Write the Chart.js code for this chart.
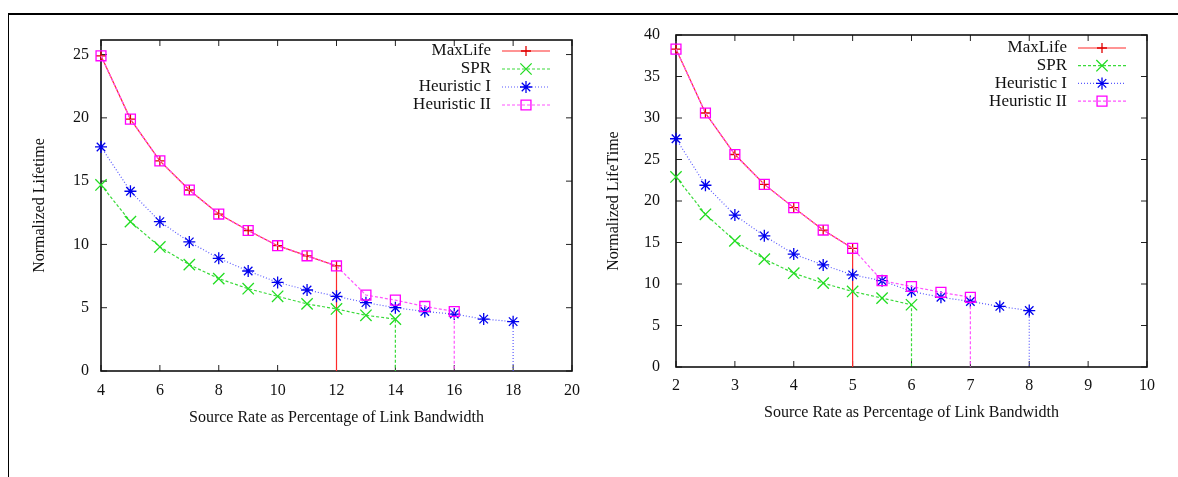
<!DOCTYPE html>
<html lang="en">
<head>
<meta charset="UTF-8">
<title>Normalized Lifetime vs Source Rate</title>
<script src="https://cdn.jsdelivr.net/npm/chart.js"></script>
<style>
    body { margin: 0; background: #fff; }
    .frame { position: absolute; left: 8px; top: 13px; right: 0; bottom: 0; border-top: 2px solid #000; border-left: 1.5px solid #000; }
    .box { position: absolute; top: 0; height: 477px; }
</style>
</head>
<body>
<div class="frame"></div>
<div class="box" style="left:0;width:590px"><canvas id="chartLeft"></canvas></div>
<div class="box" style="left:590px;width:588px"><canvas id="chartRight"></canvas></div>
<script>
    // series names (same in both panels)
    const names = ["MaxLife", "SPR", "Heuristic I", "Heuristic II"];

    // left panel: source rate 4..18 %
    const rateLeft = [4, 5, 6, 7, 8, 9, 10, 11, 12, 13, 14, 15, 16, 17, 18];
    const maxLifeLeft = [24.9, 19.9, 16.6, 14.3, 12.4, 11.1, 9.9, 9.1, 8.3];
    const sprLeft = [14.7, 11.8, 9.8, 8.4, 7.3, 6.5, 5.9, 5.3, 4.9, 4.4, 4.1];
    const heur1Left = [17.7, 14.2, 11.8, 10.2, 8.9, 7.9, 7.0, 6.4, 5.9, 5.4, 5.0, 4.7, 4.5, 4.1, 3.9];
    const heur2Left = [24.9, 19.9, 16.6, 14.3, 12.4, 11.1, 9.9, 9.1, 8.3, 6.0, 5.6, 5.1, 4.7];

    // right panel: source rate 2..8 %
    const rateRight = [2, 2.5, 3, 3.5, 4, 4.5, 5, 5.5, 6, 6.5, 7, 7.5, 8];
    const maxLifeRight = [38.3, 30.6, 25.6, 22.0, 19.2, 16.5, 14.3];
    const sprRight = [22.9, 18.4, 15.2, 13.0, 11.3, 10.1, 9.1, 8.3, 7.5];
    const heur1Right = [27.5, 21.9, 18.3, 15.8, 13.6, 12.3, 11.1, 10.4, 9.1, 8.4, 7.9, 7.3, 6.8];
    const heur2Right = [38.3, 30.6, 25.6, 22.0, 19.2, 16.5, 14.3, 10.4, 9.7, 9.0, 8.4];

    const serif = "'Liberation Serif', 'Times New Roman', serif";

    // gnuplot-like styles for each series
    const looks = [
        { line: "#ff2a2a", mark: "#e00000", dash: [], style: "cross", r: 5, order: 3 },
        { line: "#3ada3a", mark: "#22dd22", dash: [3, 2], style: "crossRot", r: 8, order: 2 },
        { line: "#5a5aff", mark: "#0000ee", dash: [1, 2], style: "star", r: 6, order: 1 },
        { line: "#ff55ff", mark: "#ff00ff", dash: [3, 2], style: "rect", r: 7, order: 0 }
    ];

    // points, then the drop down to zero at the last rate
    function series(xs, ys) {
        const pts = ys.map((v, i) => ({ x: xs[i], y: v }));
        pts.push({ x: xs[ys.length - 1], y: 0 });
        return pts;
    }

    function makeSets(xs, lists) {
        return lists.map((ys, i) => {
            const lk = looks[i];
            return {
                label: names[i],
                data: series(xs, ys),
                borderColor: lk.line,
                borderWidth: 1.2,
                borderDash: lk.dash,
                pointStyle: lk.style,
                pointBorderColor: lk.mark,
                pointBackgroundColor: "rgba(0,0,0,0)",
                pointBorderWidth: 1.3,
                pointRadius: c => (c.raw && c.raw.y === 0) ? 0 : lk.r,
                tension: 0,
                clip: false,
                order: lk.order
            };
        });
    }

    // box + inward ticks on all four sides
    const boxPlugin = {
        id: "gnuBox",
        beforeDatasetsDraw(chart) {
            const { ctx, chartArea: a, scales } = chart;
            ctx.save();
            ctx.strokeStyle = "#222";
            ctx.lineWidth = 1;
            scales.x.ticks.forEach(t => {
                const px = scales.x.getPixelForValue(t.value);
                ctx.beginPath();
                ctx.moveTo(px, a.bottom); ctx.lineTo(px, a.bottom - 6);
                ctx.moveTo(px, a.top); ctx.lineTo(px, a.top + 6);
                ctx.stroke();
            });
            scales.y.ticks.forEach(t => {
                const py = scales.y.getPixelForValue(t.value);
                ctx.beginPath();
                ctx.moveTo(a.left, py); ctx.lineTo(a.left + 6, py);
                ctx.moveTo(a.right, py); ctx.lineTo(a.right - 6, py);
                ctx.stroke();
            });
            ctx.lineWidth = 1.6;
            ctx.strokeStyle = "#111";
            ctx.strokeRect(a.left, a.top, a.right - a.left, a.bottom - a.top);
            ctx.restore();
        }
    };

    // key in the top right corner, text right aligned, sample on its right
    const keyPlugin = {
        id: "gnuKey",
        afterDatasetsDraw(chart, args, opts) {
            const { ctx, chartArea: a } = chart;
            ctx.save();
            ctx.font = "17px " + serif;
            ctx.textAlign = "right";
            ctx.textBaseline = "middle";
            chart.data.datasets.forEach((ds, i) => {
                const lk = looks[i];
                const y = a.top + opts.top + i * opts.step;
                const tx = a.right - opts.textRight;
                ctx.fillStyle = "#111";
                ctx.fillText(ds.label, tx, y);
                const x0 = tx + 11, x1 = tx + 59;
                ctx.strokeStyle = lk.line;
                ctx.lineWidth = 1.2;
                ctx.setLineDash(lk.dash);
                ctx.beginPath();
                ctx.moveTo(x0, y); ctx.lineTo(x1, y);
                ctx.stroke();
                ctx.setLineDash([]);
                ctx.strokeStyle = lk.mark;
                ctx.fillStyle = "rgba(0,0,0,0)";
                ctx.lineWidth = 1.3;
                Chart.helpers.drawPoint(ctx, { pointStyle: lk.style, radius: lk.r, rotation: 0, borderWidth: 1.3 }, (x0 + x1) / 2, y);
            });
            ctx.restore();
        }
    };

    function makeChart(id, xs, lists, p) {
        new Chart(document.getElementById(id), {
            type: "line",
            data: { datasets: makeSets(xs, lists) },
            plugins: [boxPlugin, keyPlugin],
            options: {
                responsive: true,
                maintainAspectRatio: false,
                animation: false,
                events: [],
                layout: { padding: { left: 0, top: p.top, right: p.right, bottom: 0 } },
                plugins: {
                    legend: { display: false },
                    tooltip: { enabled: false },
                    gnuKey: p.key
                },
                scales: {
                    x: {
                        type: "linear",
                        min: p.xMin, max: p.xMax,
                        afterFit: s => { s.height = p.xHeight; },
                        grid: { display: false, drawTicks: false },
                        border: { display: false },
                        ticks: { stepSize: p.xStep, padding: p.xPad, color: "#111", font: { family: serif, size: 16 } },
                        title: {
                            display: true,
                            text: "Source Rate as Percentage of Link Bandwidth",
                            color: "#111",
                            font: { family: serif, size: 16 },
                            padding: { top: 0, bottom: p.xTitlePad }
                        }
                    },
                    y: {
                        min: 0, max: p.yMax,
                        afterFit: s => { s.width = p.yWidth; },
                        grid: { display: false, drawTicks: false },
                        border: { display: false },
                        ticks: { stepSize: 5, includeBounds: false, padding: p.yPad, color: "#111", font: { family: serif, size: 16 } },
                        title: {
                            display: true,
                            text: p.yTitle,
                            color: "#111",
                            font: { family: serif, size: 16 },
                            padding: { top: p.yTitlePad, bottom: 0 }
                        }
                    }
                }
            }
        });
    }

    makeChart("chartLeft", rateLeft, [maxLifeLeft, sprLeft, heur1Left, heur2Left], {
        top: 40, right: 18, xHeight: 106, yWidth: 101,
        xMin: 4, xMax: 20, xStep: 2, yMax: 26.15,
        xPad: 10, yPad: 12, xTitlePad: 50, yTitlePad: 30,
        yTitle: "Normalized Lifetime",
        key: { top: 11, step: 18, textRight: 81 }
    });

    makeChart("chartRight", rateRight, [maxLifeRight, sprRight, heur1Right, heur2Right], {
        top: 35, right: 31, xHeight: 110, yWidth: 86,
        xMin: 2, xMax: 10, xStep: 1, yMax: 40,
        xPad: 9, yPad: 16, xTitlePad: 55, yTitlePad: 14,
        yTitle: "Normalized LifeTime",
        key: { top: 13, step: 17.7, textRight: 80 }
    });
</script>
</body>
</html>
